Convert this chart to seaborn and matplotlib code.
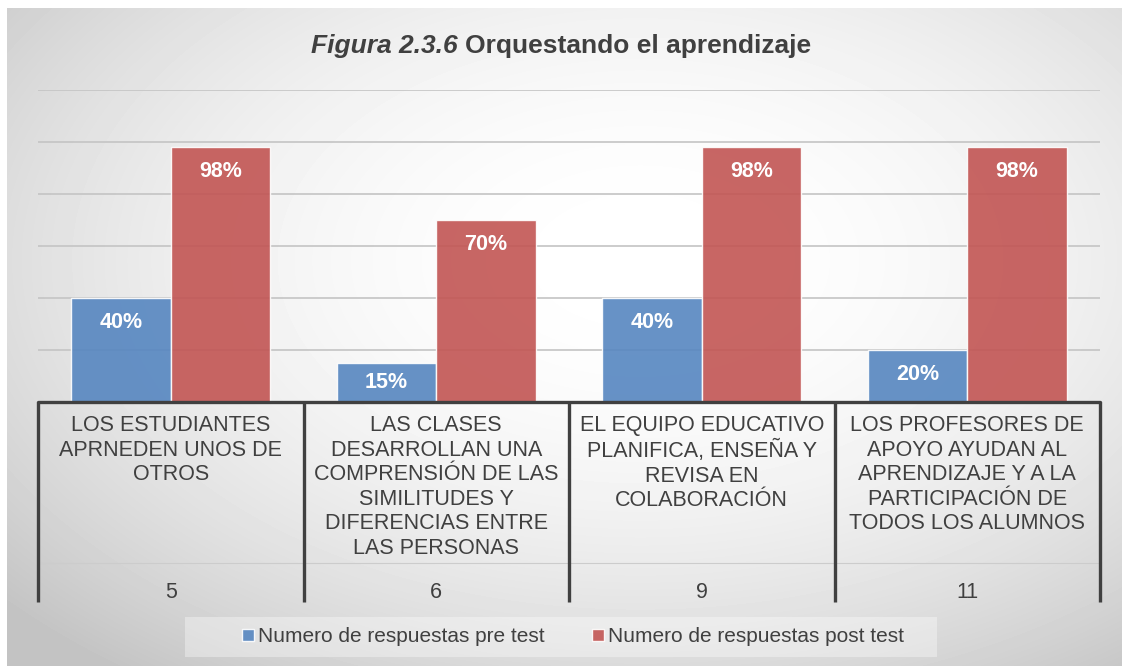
import numpy as np
import pandas as pd
import seaborn as sns
import matplotlib.pyplot as plt
import matplotlib.transforms as mtransforms
from matplotlib.patches import Rectangle

# datos del grafico
items = ["LOS ESTUDIANTES\nAPRNEDEN UNOS DE\nOTROS",
         "LAS CLASES\nDESARROLLAN UNA\nCOMPRENSIÓN DE LAS\nSIMILITUDES Y\nDIFERENCIAS ENTRE\nLAS PERSONAS",
         "EL EQUIPO EDUCATIVO\nPLANIFICA, ENSEÑA Y\nREVISA EN\nCOLABORACIÓN",
         "LOS PROFESORES DE\nAPOYO AYUDAN AL\nAPRENDIZAJE Y A LA\nPARTICIPACIÓN DE\nTODOS LOS ALUMNOS"]
numeros = ["5", "6", "9", "11"]
series = ["Numero de respuestas pre test", "Numero de respuestas post test"]
pre_test = [0.40, 0.15, 0.40, 0.20]
post_test = [0.98, 0.70, 0.98, 0.98]
colores = ["#5686c0", "#c25553"]

df = pd.DataFrame({
    "item": items * 2,
    "valor": pre_test + post_test,
    "serie": [series[0]] * 4 + [series[1]] * 4,
})

sns.set_style("white")
plt.rcParams['font.family'] = ['Liberation Sans', 'DejaVu Sans']
txt = "#404040"

fig = plt.figure(figsize=(11.22, 6.66), dpi=100)
fig.patch.set_facecolor("white")

# fondo degradado
bg = fig.add_axes([7 / 1122, 0, 1 - 7 / 1122, 1 - 8 / 666], zorder=-5)
yy, xx = np.mgrid[8:666, 7:1122]
r2 = ((xx - 640) / 700.0) ** 2 + ((yy - 260) / 430.0) ** 2
val = 1 - 0.16 * np.clip(r2, 0, 1.45)
bg.imshow(val, cmap="gray", vmin=0, vmax=1, aspect="auto", interpolation="bilinear")
bg.axis("off")

ax = fig.add_axes([38 / 1122, (666 - 402) / 666, (1100 - 38) / 1122, 312 / 666])
ax.patch.set_alpha(0)

sns.barplot(data=df, x="item", y="valor", hue="serie", palette=colores, saturation=1,
            width=0.75, alpha=0.9, edgecolor=(1, 1, 1, 0.5), linewidth=1,
            ax=ax, zorder=3)
handles, labels = ax.get_legend_handles_labels()
ax.get_legend().remove()

ax.set_xlim(-0.5, 3.5)
ax.set_ylim(0, 1.2)
ax.set_yticks([0.2, 0.4, 0.6, 0.8, 1.0, 1.2])
ax.yaxis.grid(True, color="#c4c4c4", lw=1.2)
ax.set_axisbelow(True)
ax.tick_params(left=False, bottom=False, labelleft=False, labelbottom=False)
ax.set_xlabel("")
ax.set_ylabel("")
sns.despine(ax=ax, left=True, bottom=True)

# etiquetas de valor
for k, vals in enumerate([pre_test, post_test]):
    for i, v in enumerate(vals):
        xpos = i + (k - 0.5) * 0.375
        ypos = max(v - 0.095, v / 2)
        ax.text(xpos, ypos, f"{v:.0%}", ha="center", va="center",
                color="white", fontsize=15.5, fontweight="bold", zorder=6)

# eje de categorias en dos niveles
trans = mtransforms.blended_transform_factory(ax.transData, ax.transAxes)
ax.axhline(0, color=txt, lw=2.4, zorder=5, clip_on=False)
ax.plot([-0.5, 3.5], [-0.516, -0.516], transform=trans, color="#cccccc", lw=0.8, clip_on=False)
for xb in np.arange(-0.5, 4, 1):
    ax.plot([xb, xb], [0, -0.641], transform=trans, color=txt, lw=2.4,
            clip_on=False, solid_capstyle="butt", zorder=5)
for i, (lab, num) in enumerate(zip(items, numeros)):
    ax.text(i, -0.043, lab, transform=trans, ha="center", va="top",
            fontsize=15.5, color=txt, linespacing=1.22)
    ax.text(i, -0.609, num, transform=trans, ha="center", va="center",
            fontsize=15.5, color=txt)

# titulo con parte en cursiva
ty = 1 - 46 / 666
t1 = fig.text(0, ty, "Figura 2.3.6 ", fontsize=19, fontweight="bold", fontstyle="italic",
              color=txt, va="center")
t2 = fig.text(0, ty, "Orquestando el aprendizaje", fontsize=19, fontweight="bold",
              color=txt, va="center")
fig.canvas.draw()
rend = fig.canvas.get_renderer()
w1 = t1.get_window_extent(rend).width / fig.bbox.width
w2 = t2.get_window_extent(rend).width / fig.bbox.width
x0 = 0.5 - (w1 + w2) / 2
t1.set_x(x0)
t2.set_x(x0 + w1)

# leyenda
fig.add_artist(Rectangle((185 / 1122, 9 / 666), 752 / 1122, 40 / 666,
                         transform=fig.transFigure, fc="white", alpha=0.35, ec="none"))
fig.legend(handles, labels, loc="center", bbox_to_anchor=(573 / 1122, 29 / 666),
           ncol=2, frameon=False, fontsize=15, handlelength=0.55, handleheight=0.55,
           handletextpad=0.2, columnspacing=2.3, labelcolor=txt)

plt.savefig("out.png", dpi=100)
